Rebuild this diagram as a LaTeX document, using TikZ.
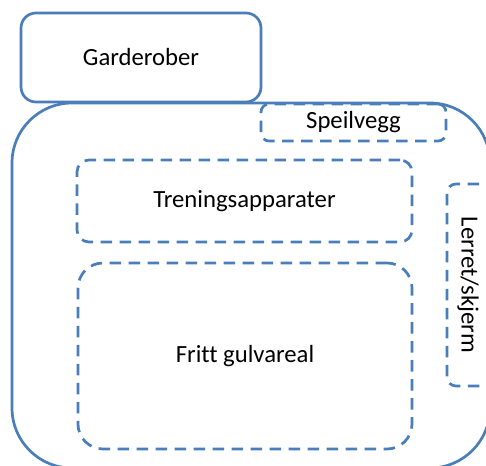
\documentclass[tikz,border=0pt]{standalone}
\usepackage{fontspec}
\setmainfont{Carlito}[Ligatures=NoCommon]
\definecolor{officeblue}{RGB}{74,126,187}
\begin{document}
\begin{tikzpicture}[x=1pt,y=-1pt,
  base/.style={draw=officeblue, line width=2.7pt, rectangle, inner sep=0pt,
    font=\fontsize{24.7}{29}\selectfont},
  solidbox/.style={base},
  dbox/.style={base, dash pattern=on 11.5pt off 7.5pt}]
\clip (0,0) rectangle (486,465);
\node[solidbox, rounded corners=60pt, minimum width=478, minimum height=365] (room) at (251,285.5) {};
\node[solidbox, fill=white, rounded corners=15pt, minimum width=240, minimum height=89] (garderober) at (141,57.5) {Garderober};
\node[dbox, rounded corners=8pt, minimum width=185, minimum height=37] (speilvegg) at (353.5,122.5) {Speilvegg};
\node[dbox, rounded corners=12pt, minimum width=335, minimum height=82] (trening) at (244.5,201) {Treningsapparater};
\node[dbox, rounded corners=25pt, minimum width=334, minimum height=186] (fritt) at (245,356) {Fritt gulvareal};
\node[dbox, rounded corners=9pt, minimum width=60, minimum height=202] (lerret) at (477,285) {};
\node[font=\fontsize{24.7}{29}\selectfont, rotate=-90, inner sep=0pt] (lerrettext) at (468,285) {Lerret/skjerm};
\end{tikzpicture}
\end{document}
